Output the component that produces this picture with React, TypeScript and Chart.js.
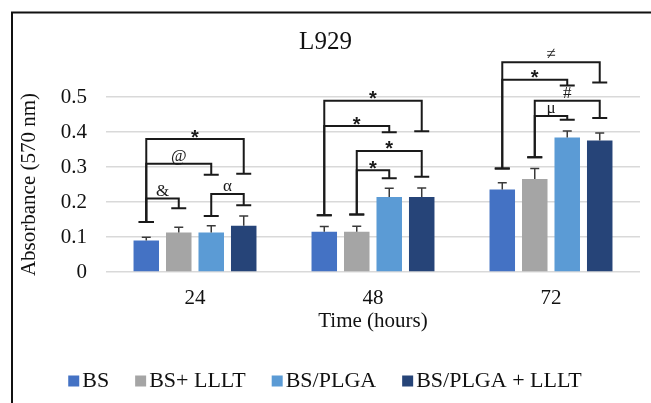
import React, { useEffect, useRef } from "react";
import { Chart, registerables } from "chart.js";

Chart.register(...registerables);

const categories = ["24", "48", "72"];
const seriesNames = ["BS", "BS+ LLLT", "BS/PLGA", "BS/PLGA + LLLT"];
const bsValues = [0.09, 0.115, 0.236];
const bsLlltValues = [0.113, 0.115, 0.266];
const bsPlgaValues = [0.113, 0.214, 0.384];
const bsPlgaLlltValues = [0.132, 0.214, 0.376];
const bsErrors = [0.009, 0.015, 0.019];
const bsLlltErrors = [0.015, 0.016, 0.03];
const bsPlgaErrors = [0.019, 0.025, 0.019];
const bsPlgaLlltErrors = [0.028, 0.026, 0.021];
const yTicks = [0, 0.1, 0.2, 0.3, 0.4, 0.5];
const colors = ["#4472C4", "#A5A5A5", "#5B9BD5", "#264478"];

// significance brackets (values in absorbance units)
const brackets = [
  { group: 0, from: 0, to: 3, start: 0.143, top: 0.38, end: 0.281, label: "*" },
  { group: 0, from: 0, to: 2, start: 0.143, top: 0.309, end: 0.278, label: "@" },
  { group: 0, from: 0, to: 1, start: 0.143, top: 0.21, end: 0.182, label: "&" },
  { group: 0, from: 2, to: 3, start: 0.16, top: 0.223, end: 0.191, label: "α" },
  { group: 1, from: 0, to: 3, start: 0.162, top: 0.489, end: 0.402, label: "*" },
  { group: 1, from: 0, to: 2, start: 0.162, top: 0.417, end: 0.399, label: "*" },
  { group: 1, from: 1, to: 3, start: 0.164, top: 0.346, end: 0.272, label: "*" },
  { group: 1, from: 1, to: 2, start: 0.164, top: 0.291, end: 0.268, label: "*" },
  { group: 2, from: 0, to: 3, start: 0.296, top: 0.599, end: 0.5415, label: "≠" },
  { group: 2, from: 0, to: 2, start: 0.296, top: 0.549, end: 0.533, label: "*" },
  { group: 2, from: 1, to: 3, start: 0.328, top: 0.489, end: 0.44, label: "#" },
  { group: 2, from: 1, to: 2, start: 0.328, top: 0.446, end: 0.435, label: "μ" },
];

const allValues = [bsValues, bsLlltValues, bsPlgaValues, bsPlgaLlltValues];
const allErrors = [bsErrors, bsLlltErrors, bsPlgaErrors, bsPlgaLlltErrors];
const FONT = '"Liberation Serif", "Times New Roman", serif';

const overlay = {
  id: "overlay",
  afterDatasetsDraw(chart: any) {
    const ctx = chart.ctx;
    const y = chart.scales.y;
    ctx.save();
    // error bars
    ctx.strokeStyle = "#3a3a3a";
    ctx.lineWidth = 1.5;
    allErrors.forEach((errs, d) => {
      const meta = chart.getDatasetMeta(d);
      meta.data.forEach((bar: any, i: number) => {
        const v = allValues[d][i];
        const yb = y.getPixelForValue(v);
        const yt = y.getPixelForValue(v + errs[i]);
        ctx.beginPath();
        ctx.moveTo(bar.x, yb);
        ctx.lineTo(bar.x, yt);
        ctx.moveTo(bar.x - 4.5, yt);
        ctx.lineTo(bar.x + 4.5, yt);
        ctx.stroke();
      });
    });
    // brackets
    ctx.strokeStyle = "#1a1a1a";
    ctx.lineWidth = 2;
    ctx.fillStyle = "#1a1a1a";
    ctx.textAlign = "center";
    ctx.textBaseline = "alphabetic";
    brackets.forEach((b) => {
      const x1 = chart.getDatasetMeta(b.from).data[b.group].x;
      const x2 = chart.getDatasetMeta(b.to).data[b.group].x;
      const ys = y.getPixelForValue(b.start);
      const yt = y.getPixelForValue(b.top);
      const ye = y.getPixelForValue(b.end);
      ctx.beginPath();
      ctx.moveTo(x1 - 7.5, ys);
      ctx.lineTo(x1 + 7.5, ys);
      ctx.moveTo(x1, ys);
      ctx.lineTo(x1, yt);
      ctx.lineTo(x2, yt);
      ctx.lineTo(x2, ye);
      ctx.moveTo(x2 - 7.5, ye);
      ctx.lineTo(x2 + 7.5, ye);
      ctx.stroke();
      const cx = (x1 + x2) / 2;
      if (b.label === "*") {
        ctx.font = `bold 20px "Liberation Sans", sans-serif`;
        ctx.fillText(b.label, cx, yt + 4.5);
      } else {
        ctx.font = `17px ${FONT}`;
        ctx.fillText(b.label, cx, yt - 3);
      }
    });
    ctx.restore();
  },
  afterDraw(chart: any) {
    const ctx = chart.ctx;
    ctx.save();
    // frame
    ctx.strokeStyle = "#111";
    ctx.lineWidth = 2;
    ctx.beginPath();
    ctx.moveTo(12, chart.height);
    ctx.lineTo(12, 12.5);
    ctx.lineTo(chart.width, 12.5);
    ctx.stroke();
    // title
    ctx.fillStyle = "#111";
    ctx.textAlign = "center";
    ctx.textBaseline = "middle";
    ctx.font = `25px ${FONT}`;
    ctx.fillText("L929", 325.5, 42);
    // legend
    ctx.font = `22px ${FONT}`;
    ctx.textAlign = "left";
    const box = 11;
    const gapText = 3;
    const gapItem = 26;
    const widths = seriesNames.map((n) => box + gapText + ctx.measureText(n).width);
    const total = widths.reduce((a, w) => a + w, 0) + gapItem * (seriesNames.length - 1);
    let x = 325 - total / 2;
    const yc = 381;
    seriesNames.forEach((n, i) => {
      ctx.fillStyle = colors[i];
      ctx.fillRect(x, yc - box / 2, box, box);
      ctx.fillStyle = "#111";
      ctx.fillText(n, x + box + gapText, yc);
      x += widths[i] + gapItem;
    });
    ctx.restore();
  },
};

export default function App() {
  const ref = useRef<HTMLCanvasElement | null>(null);
  useEffect(() => {
    if (!ref.current) return;
    const chart = new Chart(ref.current, {
      type: "bar",
      data: {
        labels: categories,
        datasets: seriesNames.map((name, i) => ({
          label: name,
          data: allValues[i],
          backgroundColor: colors[i],
          categoryPercentage: 0.73,
          barPercentage: 0.785,
        })),
      },
      options: {
        responsive: false,
        animation: false,
        layout: { padding: { left: 0, right: 11, top: 97, bottom: 66 } },
        plugins: {
          legend: { display: false },
          tooltip: { enabled: false },
          title: { display: false },
        },
        scales: {
          x: {
            grid: { display: false, drawTicks: false },
            border: { display: false },
            ticks: { color: "#111", padding: 14, font: { family: FONT, size: 21 } },
            title: {
              display: true,
              text: "Time (hours)",
              color: "#111",
              font: { family: FONT, size: 21 },
              padding: { top: 0, bottom: 3 },
            },
            afterFit: (s: any) => {
              s.height = 65;
            },
          },
          y: {
            min: 0,
            max: 0.5,
            grid: { color: "#D9D9D9", lineWidth: 1.5, drawTicks: false },
            border: { display: false },
            afterBuildTicks: (s: any) => {
              s.ticks = yTicks.map((v) => ({ value: v }));
            },
            ticks: {
              color: "#111",
              padding: 19,
              font: { family: FONT, size: 21 },
              callback: (v: any) => String(v),
            },
            title: {
              display: true,
              text: "Absorbance (570 nm)",
              color: "#111",
              font: { family: FONT, size: 21 },
              padding: { top: 17, bottom: 0 },
            },
            afterFit: (s: any) => {
              s.width = 106;
            },
          },
        },
      },
      plugins: [overlay],
    });
    return () => chart.destroy();
  }, []);
  return (
    <div style={{ position: "fixed", left: 0, top: 0, width: 651, height: 403, background: "#fff" }}>
      <canvas ref={ref} width={651} height={403} style={{ display: "block" }} />
    </div>
  );
}
